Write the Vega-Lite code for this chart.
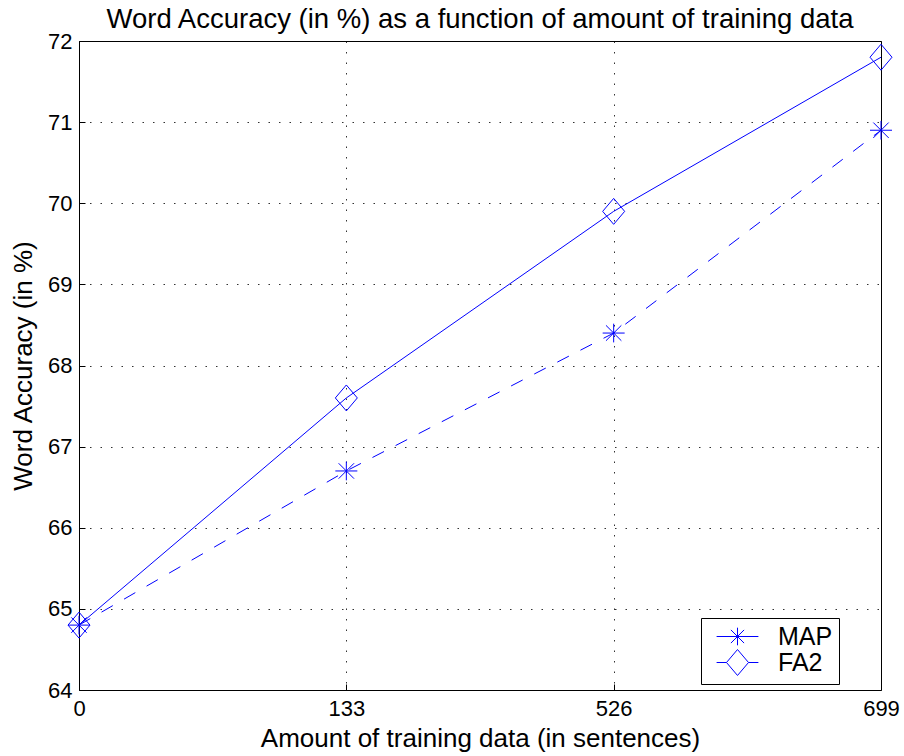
{
  "$schema": "https://vega.github.io/schema/vega-lite/v6.json",
  "width": 802,
  "height": 649,
  "autosize": {"type": "none"},
  "padding": {"left": 79, "top": 41, "right": 23, "bottom": 66},
  "background": "white",
  "config": {
    "font": "Liberation Sans",
    "view": {"stroke": "black", "strokeWidth": 1}
  },
  "title": {
    "text": "Word Accuracy (in %) as a function of amount of training data",
    "fontSize": 27.5,
    "fontWeight": "normal",
    "color": "black",
    "anchor": "middle",
    "offset": -3
  },
  "data": {
    "values": [
      {"sentences": "0", "method": "MAP", "accuracy": 64.8},
      {"sentences": "133", "method": "MAP", "accuracy": 66.7},
      {"sentences": "526", "method": "MAP", "accuracy": 68.4},
      {"sentences": "699", "method": "MAP", "accuracy": 70.9},
      {"sentences": "0", "method": "FA2", "accuracy": 64.8},
      {"sentences": "133", "method": "FA2", "accuracy": 67.6},
      {"sentences": "526", "method": "FA2", "accuracy": 69.9},
      {"sentences": "699", "method": "FA2", "accuracy": 71.8}
    ]
  },
  "encoding": {
    "x": {
      "field": "sentences",
      "type": "ordinal",
      "sort": ["0", "133", "526", "699"],
      "scale": {"type": "point", "padding": 0},
      "axis": {
        "title": "Amount of training data (in sentences)",
        "titleFontSize": 26,
        "titleFontWeight": "normal",
        "titleColor": "black",
        "titlePadding": 6,
        "labelAngle": 0,
        "labelFontSize": 22,
        "labelColor": "black",
        "labelPadding": 14,
        "domain": false,
        "ticks": true,
        "tickSize": -6,
        "tickColor": "black",
        "grid": true,
        "gridColor": "black",
        "gridDash": [1.5, 9],
        "gridOpacity": 0.8
      }
    },
    "y": {
      "field": "accuracy",
      "type": "quantitative",
      "scale": {"domain": [64, 72], "nice": false, "zero": false},
      "axis": {
        "title": "Word Accuracy (in %)",
        "titleFontSize": 26,
        "titleFontWeight": "normal",
        "titleColor": "black",
        "titlePadding": 11,
        "values": [64, 65, 66, 67, 68, 69, 70, 71, 72],
        "labelFontSize": 22,
        "labelColor": "black",
        "labelPadding": 13,
        "domain": false,
        "ticks": true,
        "tickSize": -6,
        "tickColor": "black",
        "grid": true,
        "gridColor": "black",
        "gridDash": [1.5, 9],
        "gridOpacity": 0.8
      }
    }
  },
  "layer": [
    {
      "transform": [{"filter": "datum.method === 'MAP'"}],
      "mark": {"type": "line", "color": "#0000ff", "strokeWidth": 1, "strokeDash": [13, 13]},
      "encoding": {}
    },
    {
      "transform": [{"filter": "datum.method === 'FA2'"}],
      "mark": {"type": "line", "color": "#0000ff", "strokeWidth": 1},
      "encoding": {}
    },
    {
      "mark": {"type": "point", "filled": false, "color": "#0000ff", "size": 484, "strokeWidth": 1, "opacity": 1},
      "encoding": {
        "shape": {
          "field": "method",
          "type": "nominal",
          "scale": {
            "domain": ["MAP", "FA2"],
            "range": [
              "M-1,0H1M0,-0.85V0.85M-0.7,-0.7L0.7,0.7M-0.7,0.7L0.7,-0.7",
              "M0,-1.18L1,0L0,1.18L-1,0Z"
            ]
          },
          "legend": null
        }
      }
    },
    {
      "mark": {"type": "point", "filled": false, "color": "#0000ff", "size": 484, "strokeWidth": 1, "opacity": 0},
      "encoding": {
        "shape": {
          "field": "method",
          "type": "nominal",
          "scale": {
            "domain": ["MAP", "FA2"],
            "range": [
              "M-1.9,0H1.9M0,-0.8V0.8M-0.6,-0.6L0.6,0.6M-0.6,0.6L0.6,-0.6",
              "M-1.9,0H-1M1,0H1.9M0,-1.18L1,0L0,1.18L-1,0Z"
            ]
          },
          "legend": {
            "orient": "none",
            "legendX": 622,
            "legendY": 577,
            "title": null,
            "padding": 6,
            "strokeColor": "black",
            "fillColor": "white",
            "labelFontSize": 25,
            "labelColor": "black",
            "symbolSize": 484,
            "symbolOpacity": 1,
            "symbolStrokeColor": "#0000ff",
            "symbolStrokeWidth": 1,
            "symbolFillColor": "transparent",
            "symbolOffset": 18,
            "labelOffset": 28,
            "rowPadding": -7
          }
        }
      }
    }
  ],
  "resolve": {"scale": {"shape": "independent"}, "legend": {"shape": "independent"}}
}
